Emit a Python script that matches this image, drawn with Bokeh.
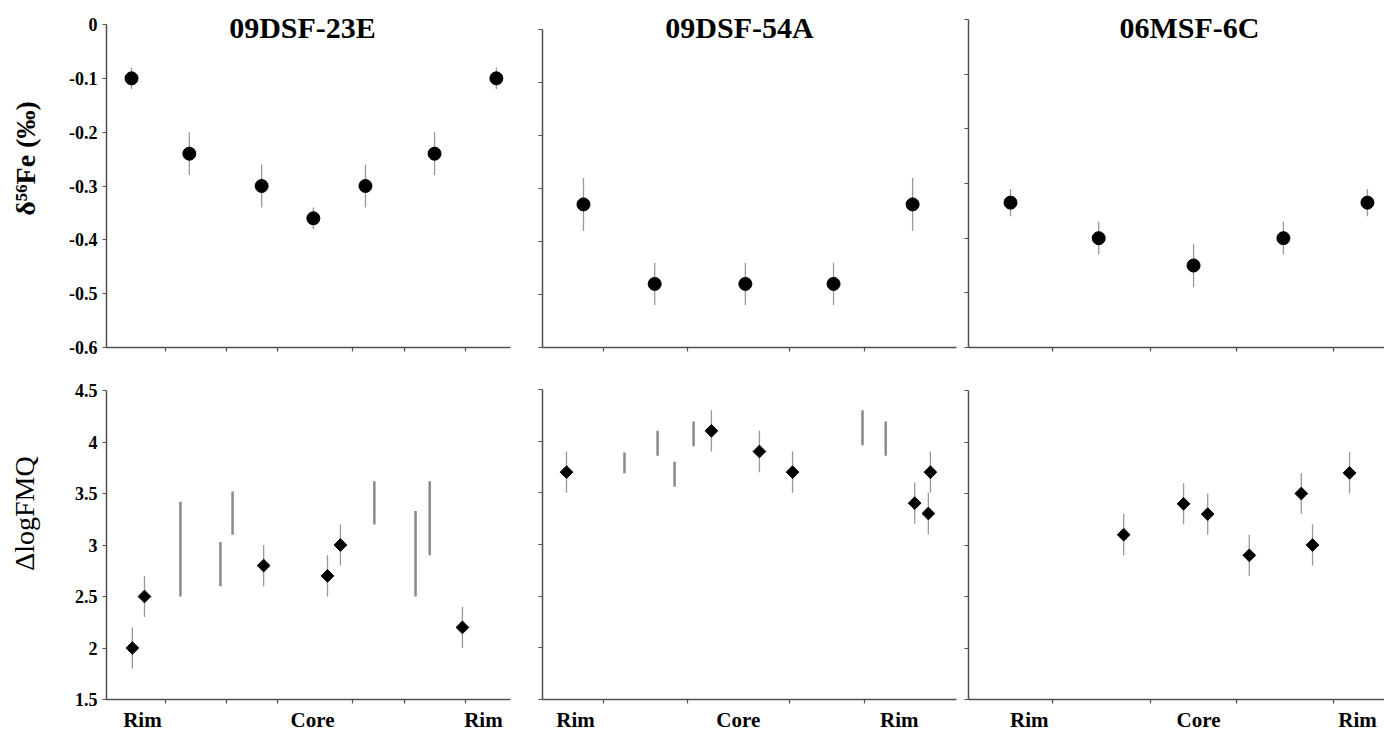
import numpy as np
from bokeh.plotting import figure
from bokeh.layouts import row, column
from bokeh.models import FixedTicker, Range1d, Label, LinearAxis
from bokeh.embed import file_html
from bokeh.resources import INLINE

FONT = "Liberation Serif"

# ---------------- data ----------------
titles = ["09DSF-23E", "09DSF-54A", "06MSF-6C"]
zone_labels = ["Rim", "Core", "Rim"]

fe_label = "δ⁵⁶Fe (‰)"
fmq_label = "ΔlogFMQ"

fe_ticks = [0, -0.1, -0.2, -0.3, -0.4, -0.5, -0.6]
fe_tick_labels = ["0", "-0.1", "-0.2", "-0.3", "-0.4", "-0.5", "-0.6"]
fmq_ticks = [1.5, 2, 2.5, 3, 3.5, 4, 4.5]
fmq_tick_labels = ["1.5", "2", "2.5", "3", "3.5", "4", "4.5"]

# delta56Fe (top row); x = relative position across the traverse (0-100)
fe_x_23E = [6.2, 20.5, 38.4, 51.2, 64.1, 81.2, 96.5]
fe_y_23E = [-0.10, -0.24, -0.30, -0.36, -0.30, -0.24, -0.10]
fe_err_23E = [0.02, 0.04, 0.04, 0.02, 0.04, 0.04, 0.02]

fe_x_54A = [9.9, 27.1, 49.0, 70.3, 89.4]
fe_y_54A = [-0.33, -0.48, -0.48, -0.48, -0.33]
fe_err_54A = [0.05, 0.04, 0.04, 0.04, 0.05]

fe_x_6C = [10.1, 31.3, 54.1, 75.7, 95.9]
fe_y_6C = [-0.335, -0.40, -0.45, -0.40, -0.335]
fe_err_6C = [0.025, 0.03, 0.04, 0.03, 0.025]

# delta logFMQ (bottom row)
fmq_x_23E = [6.4, 9.4, 38.9, 54.7, 57.9, 88.1]
fmq_y_23E = [2.0, 2.5, 2.8, 2.7, 3.0, 2.2]
fmq_err_23E = [0.2, 0.2, 0.2, 0.2, 0.2, 0.2]
range_x_23E = [18.3, 28.2, 31.2, 66.3, 76.5, 80.0]
range_lo_23E = [2.50, 2.60, 3.10, 3.20, 2.50, 2.90]
range_hi_23E = [3.42, 3.03, 3.52, 3.62, 3.33, 3.62]

fmq_x_54A = [5.8, 40.8, 52.4, 60.4, 89.9, 93.2, 93.7]
fmq_y_54A = [3.7, 4.1, 3.9, 3.7, 3.4, 3.3, 3.7]
fmq_err_54A = [0.2, 0.2, 0.2, 0.2, 0.2, 0.2, 0.2]
range_x_54A = [19.8, 27.8, 31.9, 36.5, 77.3, 82.9]
range_lo_54A = [3.69, 3.86, 3.56, 3.95, 3.96, 3.86]
range_hi_54A = [3.89, 4.10, 3.80, 4.19, 4.30, 4.19]

fmq_x_6C = [37.3, 51.7, 57.5, 67.5, 80.0, 82.7, 91.6]
fmq_y_6C = [3.1, 3.4, 3.3, 2.9, 3.5, 3.0, 3.7]
fmq_err_6C = [0.2, 0.2, 0.2, 0.2, 0.2, 0.2, 0.2]
range_x_6C = []
range_lo_6C = []
range_hi_6C = []

# segment separators (x ticks) and zone label positions
sep_23E = [14.6, 29.7, 42.3, 60.9, 73.8, 88.9]
sep_54A = [14.7, 35.0, 59.7, 77.8]
sep_6C = [20.2, 43.8, 64.4, 87.7]

zone_x_23E = [8.9, 51.0, 93.3]
zone_x_54A = [8.0, 47.3, 86.2]
zone_x_6C = [14.6, 55.3, 93.5]

# ---------------- styling ----------------
AXIS_COLOR = "#505050"
ERR_COLOR = "#999999"
BAR_COLOR = "#8a8a8a"
FE_R = (-0.6, 0.0)
FMQ_R = (1.5, 4.5)


class Panel:
    """A figure whose frame fills its whole canvas; axes are pinned at fixed data locations."""

    def __init__(self, fig_box, axis_box, yr, yticks, ylabels, xticks, show_ylabels):
        fx0, fy0, fx1, fy1 = fig_box          # canvas box in page pixels
        ax0, ay_top, ax1, ay_bot = axis_box   # axis extents in page pixels
        ylo, yhi = yr
        self.ax0, self.ay_top = ax0, ay_top
        self.sx = 100.0 / (ax1 - ax0)
        self.sy = (yhi - ylo) / (ay_bot - ay_top)
        self.yhi = yhi
        x_start = (fx0 - ax0) * self.sx
        x_end = (fx1 - ax0) * self.sx
        y_end = yhi + (ay_top - fy0) * self.sy
        y_start = ylo - (fy1 - ay_bot) * self.sy
        p = figure(frame_width=fx1 - fx0, frame_height=fy1 - fy0,
                   x_range=Range1d(x_start, x_end), y_range=Range1d(y_start, y_end),
                   x_axis_location=None, y_axis_location=None,
                   output_backend="svg", toolbar_location=None, tools="",
                   min_border_left=0, min_border_right=0, min_border_top=0, min_border_bottom=0)
        p.outline_line_color = None
        p.grid.visible = False
        p.background_fill_color = "white"
        p.border_fill_color = "white"

        xaxis = LinearAxis(fixed_location=ylo, bounds=(0, 100), ticker=FixedTicker(ticks=xticks))
        xaxis.major_label_overrides = {t: "" for t in xticks}
        xaxis.major_label_standoff = 0
        yaxis = LinearAxis(fixed_location=0, bounds=(ylo, yhi), ticker=FixedTicker(ticks=yticks))
        if show_ylabels:
            yaxis.major_label_overrides = {t: l for t, l in zip(yticks, ylabels)}
            yaxis.major_label_text_font = FONT
            yaxis.major_label_text_font_style = "bold"
            yaxis.major_label_text_font_size = "18px"
            yaxis.major_label_text_color = "black"
            yaxis.major_label_standoff = 5
        else:
            yaxis.major_label_overrides = {t: "" for t in yticks}
            yaxis.major_label_standoff = 0
        for ax in (xaxis, yaxis):
            ax.axis_line_color = AXIS_COLOR
            ax.axis_line_width = 1.5
            ax.major_tick_line_color = AXIS_COLOR
            ax.major_tick_line_width = 1.2
            ax.major_tick_out = 4
            ax.major_tick_in = 0
            ax.minor_tick_line_color = None
        p.add_layout(xaxis, "below")
        p.add_layout(yaxis, "left")
        self.p = p

    def dx(self, px):
        return (px - self.ax0) * self.sx

    def dy(self, py):
        return self.yhi - (py - self.ay_top) * self.sy

    def label(self, text, x, y, size, style="bold", angle=0.0):
        self.p.add_layout(Label(x=x, y=y, text=text, text_font=FONT, text_font_style=style,
                                text_font_size=size, text_align="center", text_baseline="middle",
                                angle=angle, text_color="black"))


def fe_points(p, xs, ys, errs):
    lo = [y - e for y, e in zip(ys, errs)]
    hi = [y + e for y, e in zip(ys, errs)]
    p.segment(x0=xs, y0=lo, x1=xs, y1=hi, line_color=ERR_COLOR, line_width=1.3)
    p.scatter(x=xs, y=ys, marker="circle", size=13, fill_color="black", line_color="black")


def fmq_points(p, xs, ys, errs, rx, rlo, rhi):
    if rx:
        p.segment(x0=rx, y0=rlo, x1=rx, y1=rhi, line_color=BAR_COLOR, line_width=2.5)
    lo = [y - e for y, e in zip(ys, errs)]
    hi = [y + e for y, e in zip(ys, errs)]
    p.segment(x0=xs, y0=lo, x1=xs, y1=hi, line_color=ERR_COLOR, line_width=1.3)
    p.scatter(x=xs, y=ys, marker="square", angle=np.pi / 4, size=9,
              fill_color="black", line_color="black")


TOP_H = 368
BOT_Y1 = 731
COLS = [(0, 526), (526, 962), (962, 1384)]
AX_X = [(106, 510), (542, 956), (968, 1384)]
TOP_AX_Y = [(24, 347), (29, 347), (19, 347)]
BOT_AX_Y = [(390, 699), (389, 699), (390, 699)]
TITLE_POS = [(302, 27), (739, 27), (1189, 27)]
ZONE_Y = 719

fe_sets = [(fe_x_23E, fe_y_23E, fe_err_23E), (fe_x_54A, fe_y_54A, fe_err_54A),
           (fe_x_6C, fe_y_6C, fe_err_6C)]
fmq_sets = [(fmq_x_23E, fmq_y_23E, fmq_err_23E, range_x_23E, range_lo_23E, range_hi_23E),
            (fmq_x_54A, fmq_y_54A, fmq_err_54A, range_x_54A, range_lo_54A, range_hi_54A),
            (fmq_x_6C, fmq_y_6C, fmq_err_6C, range_x_6C, range_lo_6C, range_hi_6C)]
seps = [sep_23E, sep_54A, sep_6C]
zones = [zone_x_23E, zone_x_54A, zone_x_6C]

top_figs, bot_figs = [], []
for i in range(3):
    c0, c1 = COLS[i]
    a0, a1 = AX_X[i]
    t = Panel((c0, 0, c1, TOP_H), (a0, TOP_AX_Y[i][0], a1, TOP_AX_Y[i][1]),
              FE_R, fe_ticks, fe_tick_labels, seps[i], i == 0)
    fe_points(t.p, *fe_sets[i])
    tx, ty = TITLE_POS[i]
    t.label(titles[i], t.dx(tx), t.dy(ty), "30px")
    if i == 0:
        t.label(fe_label, t.dx(25), t.dy(158), "28px", "bold", np.pi / 2)
    top_figs.append(t.p)

    b = Panel((c0, TOP_H, c1, BOT_Y1), (a0, BOT_AX_Y[i][0], a1, BOT_AX_Y[i][1]),
              FMQ_R, fmq_ticks, fmq_tick_labels, seps[i], i == 0)
    fmq_points(b.p, *fmq_sets[i])
    for zx, zt in zip(zones[i], zone_labels):
        b.label(zt, zx, b.dy(ZONE_Y), "21px")
    if i == 0:
        b.label(fmq_label, b.dx(24), b.dy(513), "28px", "normal", np.pi / 2)
    bot_figs.append(b.p)

layout = column(row(*top_figs, spacing=0), row(*bot_figs, spacing=0), spacing=0)

open("out.html", "w").write(file_html(layout, INLINE))
